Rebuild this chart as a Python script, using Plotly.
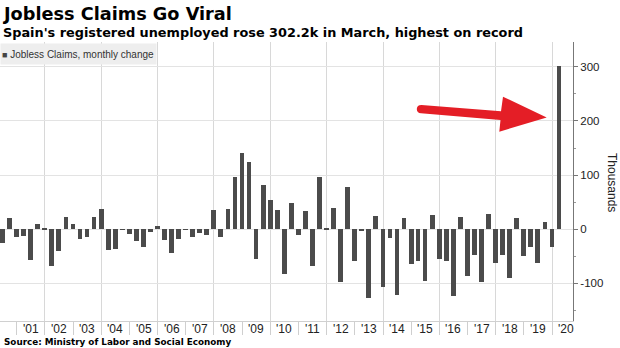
import plotly.graph_objects as go
import pandas as pd

# ---------------- data ----------------
title = "Jobless Claims Go Viral"
subtitle = "Spain's registered unemployed rose 302.2k in March, highest on record"
source = "Source: Ministry of Labor and Social Economy"
series_name = "Jobless Claims, monthly change"
y_title = "Thousands"

first_quarter = "2000Q2"
last_quarter = "2020Q1"

# monthly change (thousands), sampled at quarter-end months Jun 2000 .. Mar 2020
change_k = [
    -25, 20, -15,            # 2000 Jun, Sep, Dec
    -13, -56, 10, 2,         # 2001
    -67, -40, 22, 10,        # 2002
    -17, -15, 22, 38,        # 2003
    -38, -37, -1, -9,        # 2004
    -22, -32, -5, 7,         # 2005
    -20, -44, -17, -1,       # 2006
    -15, -7, -10, 35,        # 2007
    -14, 37, 96, 140,        # 2008
    124, -55, 81, 55,        # 2009
    36, -83, 49, -10,        # 2010
    34, -67, 96, 1,          # 2011
    39, -98, 79, -58,        # 2012
    -4, -127, 25, -107,      # 2013
    -16, -122, 20, -64,      # 2014
    -59, -95, 26, -55,       # 2015
    -58, -124, 22, -86,      # 2016
    -48, -97, 28, -62,       # 2017
    -47, -89, 20, -50,       # 2018
    -33, -63, 14, -33,       # 2019
    302.2,                   # 2020 Mar
]

year_ticks = list(range(2001, 2021))
year_labels = ["'01", "'02", "'03", "'04", "'05", "'06", "'07", "'08", "'09", "'10",
               "'11", "'12", "'13", "'14", "'15", "'16", "'17", "'18", "'19", "'20"]
y_tickvals = [-100, 0, 100, 200, 300]
y_ticktext = ["-100", "0", "100", "200", "300"]

quarters = pd.period_range(first_quarter, last_quarter, freq="Q")
dates = list(quarters.to_timestamp(how="end").strftime("%Y-%m-%d"))

# ---------------- layout geometry ----------------
W, H = 620, 348
ML, MR, MT, MB = 0, 47, 42, 27
PW, PH = W - ML - MR, H - MT - MB

def px(X):
    return (X - ML) / PW

def py(Y):
    return (H - MB - Y) / PH

x_range = ["2000-05-29", "2020-09-28"]
y_range = [-169.3, 345.8]

TITLE_FONT = "DejaVu Sans, Verdana, sans-serif"
AXIS_FONT = "Liberation Sans, Arial, sans-serif"

bar_color = "#4b4b4b"
grid_color = "#e3e3e3"
vgrid_color = "#d8d8d8"

mid_years = [f"{y}-07-02" for y in year_ticks]
even_bounds = [f"{y}-01-01" for y in year_ticks if y % 2 == 0]
odd_bounds = [f"{y}-01-01" for y in year_ticks if y % 2 == 1]

fig = go.Figure()
fig.add_trace(go.Bar(
    x=dates, y=change_k, name=series_name,
    marker=dict(color=bar_color, line=dict(width=0)),
    width=62 * 86400000,
    showlegend=False,
))

fig.update_layout(
    width=W, height=H,
    margin=dict(l=ML, r=MR, t=MT, b=MB, pad=0),
    paper_bgcolor="white", plot_bgcolor="white",
    bargap=0,
    xaxis=dict(
        type="date", range=x_range,
        # major ticks on even years carry the gridlines
        tickmode="array", tickvals=even_bounds, ticktext=[""] * len(even_bounds),
        ticks="outside", ticklen=13, tickcolor="#cfcfcf", tickwidth=1,
        showgrid=True, gridcolor=vgrid_color, gridwidth=1,
        # minor ticks on odd years: tick marks only
        minor=dict(tickvals=odd_bounds, ticks="outside", ticklen=13,
                   tickcolor="#cfcfcf", tickwidth=1, showgrid=False),
        zeroline=False,
        showline=True, linecolor="#d0d0d0", linewidth=1,
    ),
    yaxis=dict(
        range=y_range, side="right",
        tickmode="array", tickvals=y_tickvals, ticktext=y_ticktext,
        ticks="outside", ticklen=4, tickcolor="#777", tickwidth=1,
        minor=dict(tickvals=[-150, -50, 50, 150, 250], ticks="outside",
                   ticklen=2, tickcolor="#999", showgrid=False),
        showgrid=True, gridcolor=grid_color, gridwidth=1,
        zeroline=False,
        showline=True, linecolor="#777", linewidth=1,
        tickfont=dict(family=AXIS_FONT, size=11.5, color="#222"),
    ),
    font=dict(family=AXIS_FONT, color="#222"),
)

annotations = [
    dict(text=f"<b>{title}</b>", x=px(1), y=py(14), xref="paper", yref="paper",
         xanchor="left", yanchor="middle", showarrow=False,
         font=dict(family=TITLE_FONT, size=17.7, color="#000")),
    dict(text=f"<b>{subtitle}</b>", x=px(1), y=py(32), xref="paper", yref="paper",
         xanchor="left", yanchor="middle", showarrow=False,
         font=dict(family=TITLE_FONT, size=12.85, color="#000")),
    dict(text=f"<b>{source}</b>", x=px(2), y=py(342), xref="paper", yref="paper",
         xanchor="left", yanchor="middle", showarrow=False,
         font=dict(family=TITLE_FONT, size=8.8, color="#000")),
    dict(text=f"<span style='font-size:9px;color:#444'>■</span> {series_name}",
         x=px(0), y=py(43), xref="paper", yref="paper",
         xanchor="left", yanchor="top", showarrow=False,
         width=153, height=18, align="left", bgcolor="#eeeeee", borderpad=1,
         font=dict(family=AXIS_FONT, size=10, color="#333")),
    dict(text=y_title, x=px(612), y=py(182), xref="paper", yref="paper",
         xanchor="center", yanchor="middle", showarrow=False, textangle=90,
         font=dict(family=AXIS_FONT, size=12, color="#222")),
]
# year labels centred between the year-boundary ticks
for d, lab in zip(mid_years, year_labels):
    annotations.append(dict(text=lab, x=d, xref="x", y=py(329), yref="paper",
                            xanchor="center", yanchor="middle", showarrow=False,
                            font=dict(family=AXIS_FONT, size=12, color="#222")))
fig.update_layout(annotations=annotations)

# red call-out arrow (pixel outline converted to paper coords)
arrow_pts = [
    ("M", (421.5, 104.9)),
    ("L", (501.0, 111.3)),
    ("L", (503.0, 96.7)),
    ("L", (546.7, 117.5)),
    ("L", (499.3, 131.7)),
    ("L", (500.5, 120.0)),
    ("L", (421.0, 113.3)),
]
path = " ".join(f"{c}{px(a):.5f},{py(b):.5f}" for c, (a, b) in arrow_pts)
path += f" Q{px(416.8):.5f},{py(113.2):.5f} {px(416.8):.5f},{py(109.1):.5f}"
path += f" Q{px(416.8):.5f},{py(105.0):.5f} {px(421.5):.5f},{py(104.9):.5f} Z"
fig.add_shape(type="path", path=path, xref="paper", yref="paper",
              fillcolor="#e41e26", line=dict(width=0), layer="above")

fig.write_html("out.html")
